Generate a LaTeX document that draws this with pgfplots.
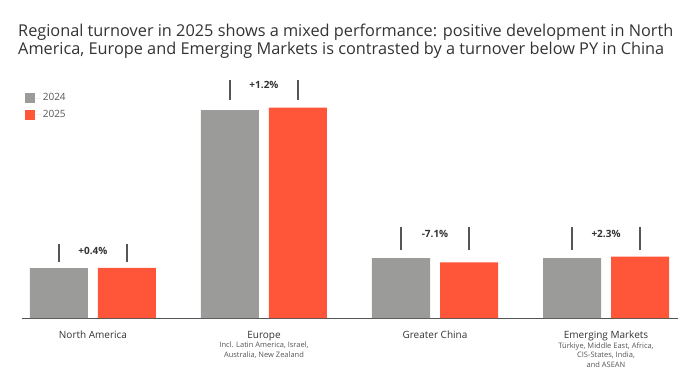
\documentclass[border=0pt]{standalone}
\usepackage{pgfplots}
\pgfplotsset{compat=1.18}
\usepackage{fontspec}
\setmainfont{Open Sans}
\definecolor{bargray}{HTML}{9B9C99}
\definecolor{barred}{HTML}{FF5539}
\definecolor{txt}{HTML}{333333}
\definecolor{subtxt}{HTML}{555555}
\definecolor{axisc}{HTML}{555555}
\begin{document}
\begin{tikzpicture}[x=1pt,y=1pt]
\path[use as bounding box] (0,0) rectangle (700,389);
\coordinate (AX) at (22pt,71pt);
\node[anchor=base west, inner sep=0, text=txt, font=\fontsize{16.3}{20}\selectfont] at (18,352) {Regional turnover in 2025 shows a mixed performance: positive development in North};
\node[anchor=base west, inner sep=0, text=txt, font=\fontsize{16.3}{20}\selectfont] at (18,334) {America, Europe and Emerging Markets is contrasted by a turnover below PY in China};
\begin{axis}[
  at={(AX)}, anchor=south west,
  scale only axis, width=656pt, height=258pt,
  xmin=-0.415, xmax=3.421, ymin=0, ymax=258,
  ybar, bar width=58pt,
  axis x line*=bottom, hide y axis,
  x axis line style={-, color=axisc, line width=1pt},
  xtick={0,1,2,3}, major tick length=0pt,
  xticklabels={
    {North America},
    {Europe\\{\color{subtxt}\fontsize{7.5}{9}\selectfont Incl. Latin America, Israel,}\\{\color{subtxt}\fontsize{7.5}{9}\selectfont Australia, New Zealand}},
    {Greater China},
    {Emerging Markets\\{\color{subtxt}\fontsize{7.5}{9}\selectfont Türkiye, Middle East, Africa,}\\{\color{subtxt}\fontsize{7.5}{9}\selectfont CIS-States, India,}\\{\color{subtxt}\fontsize{7.5}{9}\selectfont and ASEAN}}
  },
  xticklabel style={font=\fontsize{10}{9.5}\selectfont, text=txt, align=center, anchor=north, inner sep=0pt, yshift=-13pt},
  legend style={at={(rel axis cs:0.004,0.878)}, anchor=north west, draw=none, fill=none, inner sep=0pt, row sep=4pt, font=\fontsize{10}{11}\selectfont, text=subtxt, legend cell align=left},
  legend image code/.code={\fill[#1] (0pt,-5pt) rectangle (10pt,5pt); \path (0pt,0pt) -- (16pt,0pt);},
  clip=false,
]
\addplot[fill=bargray, draw=none, bar shift=-34pt] coordinates {(0,50) (1,208) (2,60) (3,60)};
\addlegendentry{2024}
\addplot[fill=barred, draw=none, bar shift=34pt] coordinates {(0,50.2) (1,210.5) (2,55.7) (3,61.4)};
\addlegendentry{2025}
% change brackets
\draw[axisc, line width=1.3pt] (axis cs:-0.1988,56) -- (axis cs:-0.1988,74);
\draw[axisc, line width=1.3pt] (axis cs:0.1988,56) -- (axis cs:0.1988,74);
\node[font=\fontsize{10}{11}\selectfont\bfseries, text=txt] at (axis cs:0,67) {+0.4\%};
\draw[axisc, line width=1.3pt] (axis cs:0.8012,218) -- (axis cs:0.8012,238);
\draw[axisc, line width=1.3pt] (axis cs:1.1988,218) -- (axis cs:1.1988,238);
\node[font=\fontsize{10}{11}\selectfont\bfseries, text=txt] at (axis cs:1,233) {+1.2\%};
\draw[axisc, line width=1.3pt] (axis cs:1.8012,68) -- (axis cs:1.8012,91);
\draw[axisc, line width=1.3pt] (axis cs:2.1988,68) -- (axis cs:2.1988,91);
\node[font=\fontsize{10}{11}\selectfont\bfseries, text=txt] at (axis cs:2,84) {-7.1\%};
\draw[axisc, line width=1.3pt] (axis cs:2.8012,68) -- (axis cs:2.8012,91);
\draw[axisc, line width=1.3pt] (axis cs:3.1988,68) -- (axis cs:3.1988,91);
\node[font=\fontsize{10}{11}\selectfont\bfseries, text=txt] at (axis cs:3,84) {+2.3\%};
\end{axis}
\end{tikzpicture}
\end{document}
